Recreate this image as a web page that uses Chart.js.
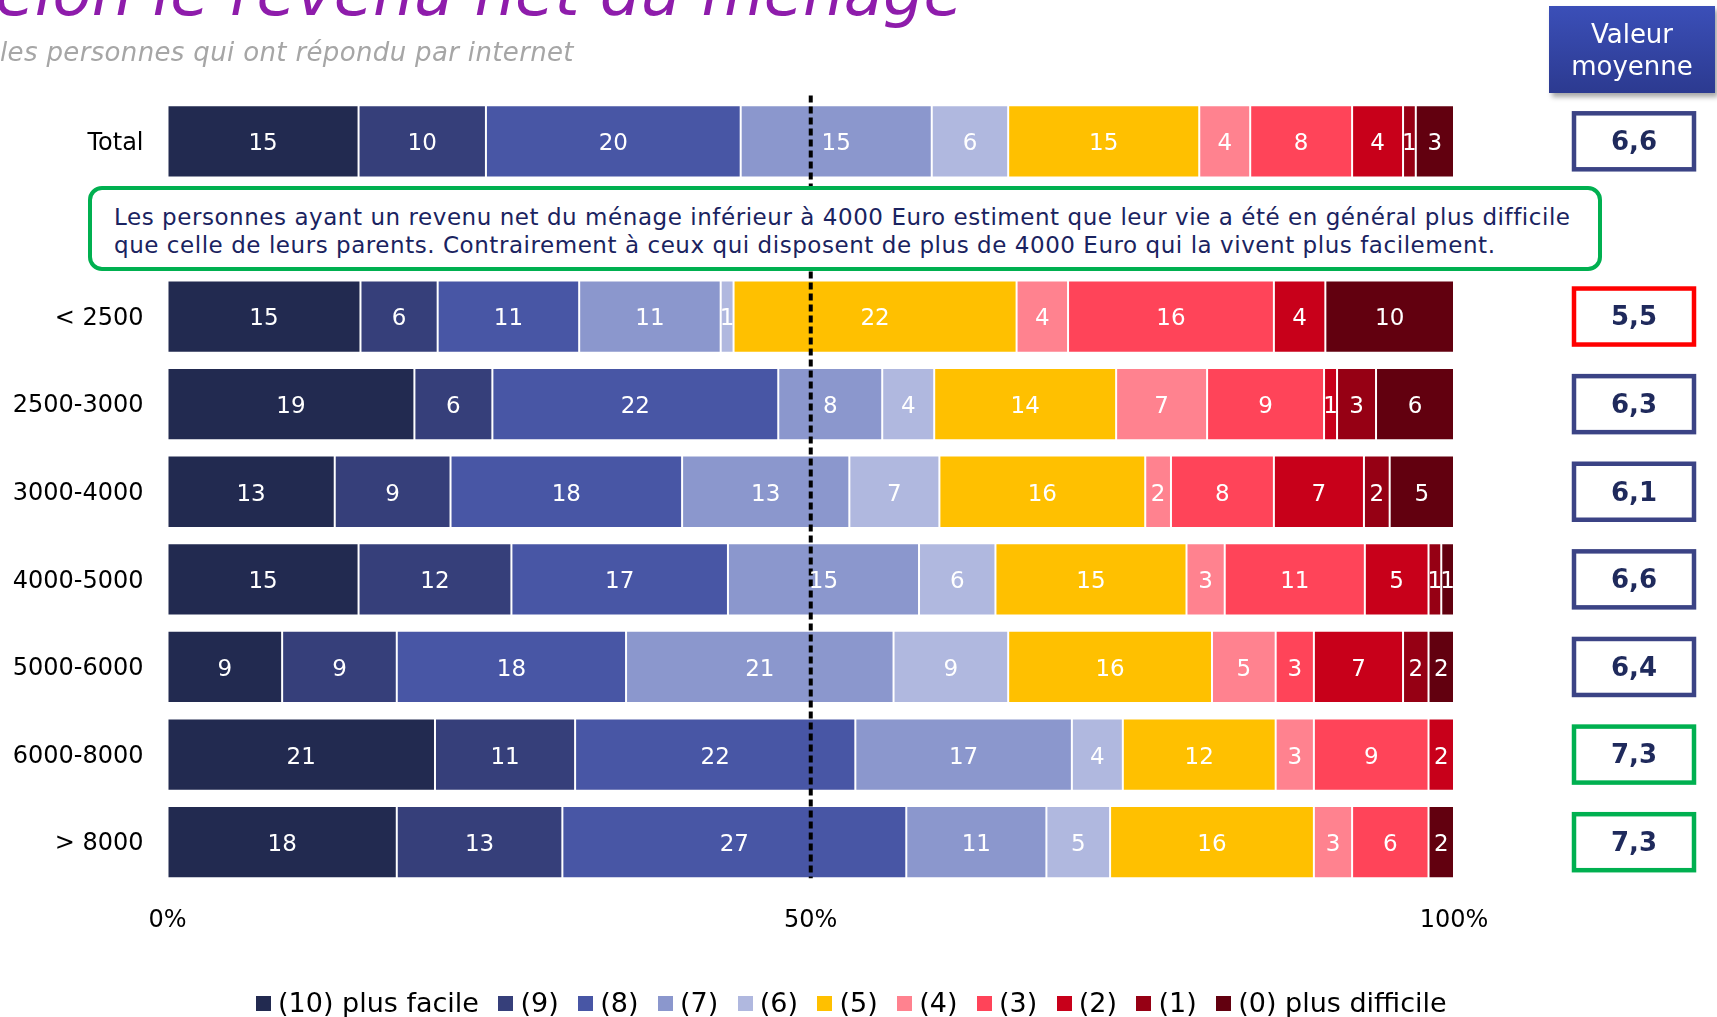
<!DOCTYPE html>
<html lang="fr">
<head>
<meta charset="utf-8">
<title>Revenu net du ménage</title>
<script src="https://cdn.jsdelivr.net/npm/chart.js@4.4.1/dist/chart.umd.min.js"></script>
<style>
    html, body { margin: 0; padding: 0; background: #fff; }
    body {
        width: 1717px; height: 1017px; position: relative; overflow: hidden;
        font-family: "DejaVu Sans", Verdana, sans-serif;
    }
    #chart { position: absolute; left: 0; top: 0; }
    .title {
        position: absolute; left: -38px; top: -39px;
        font-size: 64px; line-height: 64px; font-style: italic;
        color: #8e1cab; white-space: nowrap;
    }
    .subtitle {
        position: absolute; left: 0; top: 38px;
        font-size: 26px; line-height: 28px; font-style: italic; letter-spacing: 0.35px;
        color: #a6a6a6; white-space: nowrap;
    }
    .note {
        position: absolute; left: 88px; top: 186px;
        width: 1514px; height: 85px; box-sizing: border-box;
        border: 4px solid #00b050; border-radius: 14px; background: #fff;
        padding: 13px 0 0 22px;
        font-size: 23px; line-height: 28px; letter-spacing: 0.55px;
        color: #1a2360; white-space: nowrap;
    }
    .mean-head {
        position: absolute; left: 1549px; top: 6px; width: 166px; height: 87px;
        background: linear-gradient(#3b4fb8, #2c3a90);
        box-shadow: 3px 4px 5px rgba(0, 0, 0, 0.35);
        color: #fff; font-size: 26px; line-height: 32px; text-align: center;
        padding-top: 12px; box-sizing: border-box;
    }
    #legend {
        position: absolute; left: 256px; top: 987px; height: 32px;
        display: flex; align-items: center;
        font-size: 27px; line-height: 32px; color: #000; white-space: nowrap;
    }
    #legend .item { display: flex; align-items: center; margin-right: 19.5px; }
    #legend .box { width: 15px; height: 15px; margin-right: 7px; }
</style>
</head>
<body>
<canvas id="chart" width="1717" height="1017"></canvas>
<div class="title">selon le revenu net du ménage</div>
<div class="subtitle">les personnes qui ont répondu par internet</div>
<div class="note">Les personnes ayant un revenu net du ménage inférieur à 4000 Euro estiment que leur vie a été en général plus difficile<br>que celle de leurs parents. Contrairement à ceux qui disposent de plus de 4000 Euro qui la vivent plus facilement.</div>
<div class="mean-head">Valeur<br>moyenne</div>
<div id="legend"></div>

<script>
// ========== DATA ==========
const categories = ['Total', '', '< 2500', '2500-3000', '3000-4000', '4000-5000', '5000-6000', '6000-8000', '> 8000'];

const seriesLabels = ['(10) plus facile', '(9)', '(8)', '(7)', '(6)', '(5)', '(4)', '(3)', '(2)', '(1)', '(0) plus difficile'];

const score10 = [15, null, 15, 19, 13, 15, 9, 21, 18];
const score9  = [10, null, 6, 6, 9, 12, 9, 11, 13];
const score8  = [20, null, 11, 22, 18, 17, 18, 22, 27];
const score7  = [15, null, 11, 8, 13, 15, 21, 17, 11];
const score6  = [6, null, 1, 4, 7, 6, 9, 4, 5];
const score5  = [15, null, 22, 14, 16, 15, 16, 12, 16];
const score4  = [4, null, 4, 7, 2, 3, 5, 3, 3];
const score3  = [8, null, 16, 9, 8, 11, 3, 9, 6];
const score2  = [4, null, 4, 1, 7, 5, 7, 2, 0];
const score1  = [1, null, 0, 3, 2, 1, 2, 0, 0];
const score0  = [3, null, 10, 6, 5, 1, 2, 0, 2];

const meanValues = [6.6, null, 5.5, 6.3, 6.1, 6.6, 6.4, 7.3, 7.3];

const xTicks = [0, 50, 100];

// ========== COLORS ==========
const seriesColors = [
    '#222a50', '#363f7a', '#4856a5', '#8b97cd', '#b0b8df',
    '#ffc000', '#ff828f', '#ff4459', '#c8001a', '#960014', '#62000f'
];
const meanColors = { low: '#ff0000', mid: '#3b4385', high: '#00b050' };
const FONT = '"DejaVu Sans", Verdana, sans-serif';

const allSeries = [score10, score9, score8, score7, score6, score5, score4, score3, score2, score1, score0];

// each row is drawn as 100 % (the rounded answers do not always add up to 100)
const rowSums = categories.map((c, i) =>
    allSeries.reduce((sum, s) => sum + (s[i] || 0), 0));

const datasets = allSeries.map((values, k) => ({
    label: seriesLabels[k],
    counts: values,
    data: values.map((v, i) => v == null ? null : v / rowSums[i] * 100),
    backgroundColor: seriesColors[k],
    borderColor: 'rgba(255, 255, 255, 0.3)',
    borderWidth: 1,
    borderSkipped: false,
    barPercentage: 0.825,
    categoryPercentage: 1
}));

// ========== PLUGINS ==========
const midLine = {
    id: 'midLine',
    afterDatasetsDraw(chart) {
        const { ctx, chartArea, scales } = chart;
        const x = scales.x.getPixelForValue(50);
        const last = chart.getDatasetMeta(0).data[categories.length - 1];
        ctx.save();
        ctx.strokeStyle = '#000';
        ctx.lineWidth = 4;
        ctx.setLineDash([7, 4]);
        ctx.beginPath();
        ctx.moveTo(x, chartArea.top - 2);
        ctx.lineTo(x, last.y + last.height / 2);
        ctx.stroke();
        ctx.restore();
    }
};

const valueLabels = {
    id: 'valueLabels',
    afterDatasetsDraw(chart) {
        const { ctx } = chart;
        ctx.save();
        ctx.fillStyle = '#fff';
        ctx.font = '23px ' + FONT;
        ctx.textAlign = 'center';
        ctx.textBaseline = 'middle';
        chart.data.datasets.forEach((ds, k) => {
            chart.getDatasetMeta(k).data.forEach((bar, i) => {
                const v = ds.counts[i];
                if (!v) return;
                ctx.fillText(String(v), (bar.x + bar.base) / 2, bar.y + 3);
            });
        });
        ctx.restore();
    }
};

const meanBoxes = {
    id: 'meanBoxes',
    afterDraw(chart) {
        const { ctx, scales } = chart;
        const cx = 1634, w = 120, h = 56;
        ctx.save();
        meanValues.forEach((m, i) => {
            if (m == null) return;
            const cy = scales.y.getPixelForValue(i);
            ctx.strokeStyle = m < 6 ? meanColors.low : (m >= 7 ? meanColors.high : meanColors.mid);
            ctx.lineWidth = 4.5;
            ctx.fillStyle = '#fff';
            ctx.fillRect(cx - w / 2, cy - h / 2, w, h);
            ctx.strokeRect(cx - w / 2, cy - h / 2, w, h);
            ctx.fillStyle = '#1f2a5c';
            ctx.font = 'bold 26px ' + FONT;
            ctx.textAlign = 'center';
            ctx.textBaseline = 'middle';
            ctx.fillText(m.toFixed(1).replace('.', ','), cx, cy + 2);
        });
        ctx.restore();
    }
};

// ========== CHART ==========
new Chart(document.getElementById('chart'), {
    type: 'bar',
    data: { labels: categories, datasets: datasets },
    plugins: [midLine, valueLabels, meanBoxes],
    options: {
        indexAxis: 'y',
        responsive: false,
        animation: false,
        devicePixelRatio: 1,
        layout: { padding: { top: 97.5, right: 263, left: 0, bottom: 0 } },
        plugins: {
            legend: { display: false },
            tooltip: { enabled: false }
        },
        scales: {
            x: {
                stacked: true,
                min: 0,
                max: 100,
                afterBuildTicks: scale => { scale.ticks = xTicks.map(v => ({ value: v })); },
                afterFit: scale => { scale.height = 131; },
                grid: { display: false, drawTicks: false },
                border: { display: false },
                ticks: {
                    padding: 20,
                    color: '#000',
                    font: { family: FONT, size: 24 },
                    maxRotation: 0,
                    callback: v => v + '%'
                }
            },
            y: {
                stacked: true,
                afterFit: scale => { scale.width = 167.5; },
                grid: { display: false, drawTicks: false },
                border: { display: false },
                ticks: {
                    padding: 24,
                    labelOffset: 2,
                    color: '#000',
                    font: { family: FONT, size: 24 }
                }
            }
        }
    }
});

// ========== LEGEND ==========
const legend = document.getElementById('legend');
seriesLabels.forEach((label, k) => {
    const item = document.createElement('div');
    item.className = 'item';
    const box = document.createElement('span');
    box.className = 'box';
    box.style.background = seriesColors[k];
    const text = document.createElement('span');
    text.textContent = label;
    item.appendChild(box);
    item.appendChild(text);
    legend.appendChild(item);
});
</script>
</body>
</html>
